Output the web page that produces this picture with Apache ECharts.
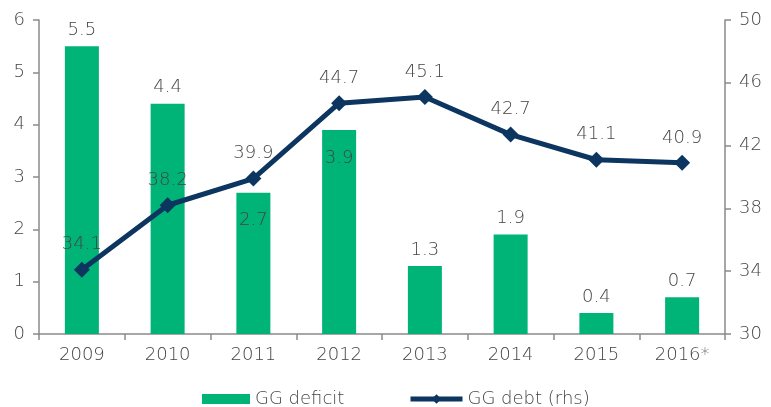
<!DOCTYPE html>
<html>
<head>
<meta charset="utf-8">
<script src="https://cdn.jsdelivr.net/npm/echarts@6/dist/echarts.min.js"></script>
<style>
	html, body { margin: 0; padding: 0; background: #fff; }
	#chart { width: 771px; height: 407px; }
</style>
</head>
<body>
<div id="chart"></div>
<script>
'use strict';
var years = ['2009', '2010', '2011', '2012', '2013', '2014', '2015', '2016*'];
var deficit = [5.5, 4.4, 2.7, 3.9, 1.3, 1.9, 0.4, 0.7];
var debt = [34.1, 38.2, 39.9, 44.7, 45.1, 42.7, 41.1, 40.9];
// bars whose label sits inside the top of the bar
var insideLabels = ['2011', '2012'];

var FONT = "'DejaVu Sans', sans-serif";
var TXT = '#444';
var AX = '#8a8a8a';
var NAVY = '#0c355f';
var FS = 18;

var chart = echarts.init(document.getElementById('chart'));

var barData = deficit.map(function(v, i){
	var inside = insideLabels.indexOf(years[i]) >= 0;
	return {
		value: v,
		label: { position: inside ? 'insideTop' : 'top', distance: inside ? 19 : 7 }
	};
});

var legendText = { fontSize: FS, color: TXT, fontFamily: FONT, fontWeight: 200 };

chart.setOption({
	animation: false,
	textStyle: { fontFamily: FONT },
	grid: { left: 39, right: 46, top: 20, bottom: 73, containLabel: false },
	legend: [
		{
			top: 385, left: 197,
			itemWidth: 48, itemHeight: 10, itemGap: 5,
			textStyle: legendText,
			data: [{ name: 'GG deficit', icon: 'rect' }]
		},
		{
			top: 385, left: 403,
			itemWidth: 52, itemHeight: 12,
			textStyle: legendText,
			lineStyle: { width: 5 },
			data: [{ name: 'GG debt (rhs)' }]
		}
	],
	xAxis: {
		type: 'category',
		data: years,
		axisLine: { lineStyle: { color: AX, width: 1.5 } },
		axisTick: { show: true, length: 6, lineStyle: { color: AX, width: 1.5 } },
		axisLabel: { fontSize: FS, color: TXT, margin: 12, fontWeight: 200 }
	},
	yAxis: [
		{
			type: 'value', min: 0, max: 6, interval: 1,
			axisLine: { show: true, lineStyle: { color: AX, width: 1.5 } },
			axisTick: { show: true, length: 6, lineStyle: { color: AX, width: 1.5 } },
			splitLine: { show: false },
			axisLabel: { fontSize: FS, color: TXT, margin: 14, fontWeight: 200 }
		},
		{
			type: 'value', min: 30, max: 50, interval: 4,
			axisLine: { show: true, lineStyle: { color: AX, width: 1.5 } },
			axisTick: { show: true, length: 6, lineStyle: { color: AX, width: 1.5 } },
			splitLine: { show: false },
			axisLabel: { fontSize: FS, color: TXT, margin: 14, fontWeight: 200 }
		}
	],
	series: [
		{
			name: 'GG deficit',
			type: 'bar',
			barWidth: 34,
			itemStyle: { color: '#00b377' },
			label: { show: true, fontSize: FS, color: TXT, fontWeight: 200 },
			data: barData
		},
		{
			name: 'GG debt (rhs)',
			type: 'line',
			yAxisIndex: 1,
			symbol: 'diamond',
			symbolSize: 16,
			lineStyle: { color: NAVY, width: 5 },
			itemStyle: { color: NAVY },
			label: { show: true, position: 'top', distance: 8, fontSize: FS, color: TXT, fontWeight: 200 },
			data: debt
		}
	]
});
</script>
</body>
</html>
